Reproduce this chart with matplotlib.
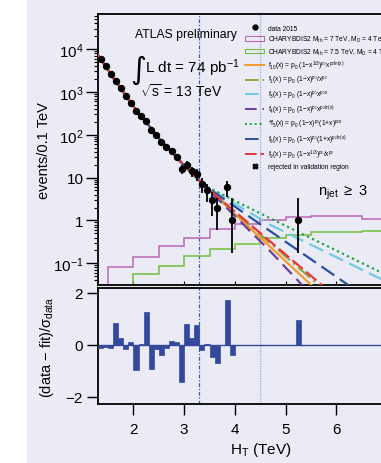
import numpy as np
import matplotlib
matplotlib.use("Agg")
import matplotlib.pyplot as plt
from matplotlib.lines import Line2D
from matplotlib.patches import Patch, Rectangle

# data 2015, events per 0.1 TeV bin (bin centres in TeV)
ht_data = [1.35, 1.45, 1.55, 1.65, 1.75, 1.85, 1.95, 2.05, 2.15, 2.25, 2.35, 2.45,
           2.55, 2.65, 2.75, 2.85, 2.95, 3.05, 3.15, 3.25, 3.35, 3.45, 3.55, 3.65,
           3.85, 3.95, 5.25]
n_data = [5906, 3932, 2612, 1798, 1208, 811, 557, 366, 274, 213, 129, 98,
          69, 53, 41, 30, 16, 20, 14, 12, 7, 5, 3, 2,
          6, 1, 1]

# fit curves: shared part, then each function on its own
fit_common_x = [1.30, 1.60, 2.00, 2.50, 3.00, 3.40]
fit_common_y = [7240, 2140, 457, 83, 19, 6.5]
f10_x, f10_y = [4.0, 4.7, 5.8], [1.41, 0.24, 0.0148]
f1_x, f1_y = [4.7, 5.9], [0.295, 0.0172]
f3_x, f3_y = [4.7, 6.8, 7.8], [0.79, 0.048, 0.0126]
f4_x, f4_y = [4.7, 5.6], [0.19, 0.0141]
f5_x, f5_y = [4.7, 6.9, 7.8], [1.12, 0.060, 0.018]
f6_x, f6_y = [4.7, 6.5], [0.56, 0.019]
f9_x, f9_y = [4.7, 6.0], [0.32, 0.0162]

# CHARYBDIS2 signal histograms
sig_edges_a = [1.5, 2.0, 2.5, 3.0, 3.5, 4.0, 4.5, 5.0, 5.5, 6.0, 6.5, 7.0]
sig_vals_a = [0.083, 0.138, 0.26, 0.40, 0.62, 0.81, 1.0, 1.18, 1.29, 1.29, 1.07]
sig_edges_b = [2.0, 2.5, 3.0, 3.5, 4.0, 4.5, 5.0, 5.5, 6.0, 6.5, 7.0]
sig_vals_b = [0.055, 0.087, 0.145, 0.22, 0.29, 0.38, 0.46, 0.55, 0.55, 0.58]

# (data - fit)/sigma, bins of 0.1 TeV
res_left = [1.3, 1.4, 1.5, 1.6, 1.7, 1.8, 1.9, 2.0, 2.1, 2.2, 2.3, 2.4, 2.5, 2.6,
            2.7, 2.8, 2.9, 3.0, 3.1, 3.2, 3.3, 3.4, 3.5, 3.6, 3.7, 3.8, 3.9, 5.2]
res_val = [-0.13, -0.07, -0.12, 0.85, 0.27, -0.15, 0.13, -0.98, 0.02, 1.27, -0.92,
           -0.15, -0.40, -0.10, 0.15, 0.10, -1.42, 0.82, 0.27, 0.78, -0.20, 0.02,
           -0.48, -0.68, 0.0, 1.74, -0.37, 0.96]

bg = "#ebebf5"
c_orange = "#f39a2c"
c_olive = "#9ea03a"
c_cyan = "#72c9e4"
c_purple = "#6b3f9c"
c_green = "#1ea64a"
c_blue = "#2c4ea2"
c_red = "#e8383d"
c_pink = "#b966b5"
c_lgreen = "#72bf3c"
c_res = "#34489c"

plt.rcParams["font.family"] = ["Liberation Sans", "DejaVu Sans"]
plt.rcParams["mathtext.fontset"] = "custom"
plt.rcParams["mathtext.rm"] = "Liberation Sans"
plt.rcParams["mathtext.it"] = "Liberation Sans"
plt.rcParams["mathtext.bf"] = "Liberation Sans:bold"

fig = plt.figure(figsize=(3.81, 4.64), dpi=100)
fig.add_artist(Rectangle((27 / 381, 0), 1, 1, transform=fig.transFigure,
                         color=bg, zorder=-10))

ax = fig.add_axes([98 / 381, 0.3836, 326 / 381, 0.5841])
ax2 = fig.add_axes([98 / 381, 0.1272, 326 / 381, 0.2500])
for a in (ax, ax2):
    a.set_facecolor(bg)
    a.set_xlim(1.3, 7.73)
    for s in a.spines.values():
        s.set_linewidth(1.3)

# ---- top panel
ax.set_yscale("log")
ax.set_ylim(10 ** -1.506, 10 ** 4.817)

ax.stairs(sig_vals_a, sig_edges_a, baseline=1e-4, color=c_pink, lw=1.1, zorder=2)
ax.stairs(sig_vals_b, sig_edges_b, baseline=1e-4, color=c_lgreen, lw=1.1, zorder=2)

fits = [
    (f10_x, f10_y, c_orange, "-"),
    (f1_x, f1_y, c_olive, (0, (7, 2, 1, 2))),
    (f3_x, f3_y, c_cyan, (0, (7, 3))),
    (f4_x, f4_y, c_purple, (0, (6, 3))),
    (f5_x, f5_y, c_green, (0, (1, 1.5))),
    (f6_x, f6_y, c_blue, (0, (7, 3))),
    (f9_x, f9_y, c_red, (0, (6, 2))),
]
handles = [Line2D([], [], ls="none", marker="o", color="k", ms=3.5)]
labels = ["data 2015"]
handles += [Patch(facecolor="none", edgecolor=c_pink, lw=0.8),
            Patch(facecolor="none", edgecolor=c_lgreen, lw=0.8)]
labels += [r"CHARYBDIS2 M$_{th}$ = 7 TeV, M$_{D}$ = 4 TeV",
           r"CHARYBDIS2 M$_{th}$ = 7.5 TeV, M$_{D}$ = 4 TeV"]
fit_labels = [
    r"f$_{10}$(x) = p$_0$ (1$-$x$^{1/3}$)$^{p_1}$x$^{p_2 ln(x)}$",
    r"f$_1$(x) = p$_0$ (1$-$x)$^{p_1}$/x$^{p_2}$",
    r"f$_3$(x) = p$_0$ (1$-$x)$^{p_1}$x$^{p_2 x}$",
    r"f$_4$(x) = p$_0$ (1$-$x)$^{p_1}$x$^{p_2 ln(x)}$",
    r"*f$_5$(x) = p$_0$ (1$-$x)$^{p_1}$(1+x)$^{p_2 x}$",
    r"f$_6$(x) = p$_0$ (1$-$x)$^{p_1}$(1+x)$^{p_2 ln(x)}$",
    r"f$_9$(x) = p$_0$ (1$-$x$^{1/3}$)$^{p_1}$/x$^{p_2}$",
]
for (fx, fy, col, ls), lab in zip(fits, fit_labels):
    xs = fit_common_x + fx
    ys = fit_common_y + fy
    ax.plot(xs, ys, color=col, ls=ls, lw=1.6, zorder=3)
    handles.append(Line2D([], [], color=col, ls=ls, lw=1.4))
    labels.append(lab)
handles.append(Line2D([], [], ls="none", marker="X", color="k", ms=3.5))
labels.append("rejected in validation region")

n = np.array(n_data, dtype=float)
err_lo = np.where(n == 1, 0.83, np.sqrt(n))
err_hi = np.where(n == 1, 2.3, np.sqrt(n))
ax.errorbar(ht_data, n, yerr=[err_lo, err_hi], fmt="o", color="k", ms=4.3,
            elinewidth=1.3, capsize=0, zorder=5)

ax.set_yticks([1e-1, 1, 10, 1e2, 1e3, 1e4])
ax.set_yticklabels([r"$\mathregular{10^{-1}}$", "1", "10", r"$\mathregular{10^{2}}$",
                    r"$\mathregular{10^{3}}$", r"$\mathregular{10^{4}}$"])
ax.tick_params(axis="y", which="major", direction="out", length=9, width=1, pad=1.5,
               labelsize=11)
ax.tick_params(axis="y", which="minor", direction="out", length=3, width=0.8)
ax.set_xticks([2, 3, 4, 5, 6])
ax.tick_params(axis="x", direction="in", length=3, labelbottom=False)
ax.set_ylabel("events/0.1 TeV", fontsize=10.5)
ax.yaxis.set_label_coords(-0.145, 0.5)

leg = ax.legend(handles, labels, loc="upper left", bbox_to_anchor=(0.451, 0.96),
                frameon=False, borderpad=0, borderaxespad=0, handlelength=2.9,
                handletextpad=0.55, labelspacing=0.33, prop={"size": 4.8})

ax.text(0.113, 0.926, "ATLAS preliminary", transform=ax.transAxes,
        fontsize=8.8, va="center", ha="left")
ax.text(0.098, 0.797, "\u222b", transform=ax.transAxes, fontsize=22,
        family="DejaVu Sans", va="center", ha="left")
ax.text(0.144, 0.804, r"L dt = 74 pb$^{-1}$", transform=ax.transAxes,
        fontsize=11, va="center", ha="left")
ax.text(0.129, 0.717, r"$\sqrt{s}$ = 13 TeV", transform=ax.transAxes,
        fontsize=10, va="center", ha="left")
ax.text(0.675, 0.343, r"n$_{jet}$ $\geq$ 3", transform=ax.transAxes,
        fontsize=10.5, va="center", ha="left")

# ---- bottom panel
ax2.bar(res_left, res_val, width=0.1, align="edge", color=c_res, edgecolor=c_res,
        lw=0.5, zorder=3)
ax2.axhline(0, color=c_res, lw=1, zorder=2)
ax2.set_ylim(-2.27, 2.19)
ax2.set_yticks([-2, 0, 2])
ax2.set_xticks([2, 3, 4, 5, 6])
ax2.tick_params(direction="out", length=8, width=1, labelsize=11, pad=3)
ax2.tick_params(axis="x", pad=5)
ax2.set_ylabel(r"(data $\mathregular{-}$ fit)/$\mathregular{\sigma_{data}}$", fontsize=10.5)
ax2.yaxis.set_label_coords(-0.128, 0.5)
ax2.set_xlabel(r"H$_\mathregular{T}$ (TeV)", fontsize=11)
ax2.xaxis.set_label_coords(0.5, -0.31)

for a in (ax, ax2):
    a.axvline(3.3, color="#3b5cb6", lw=0.9, ls=(0, (3, 1.5, 1, 1.5)), zorder=1)
    a.axvline(4.5, color="#9aaadc", lw=0.9, ls=(0, (1, 1)), zorder=1)

fig.savefig("out.png", dpi=100, facecolor="white")
